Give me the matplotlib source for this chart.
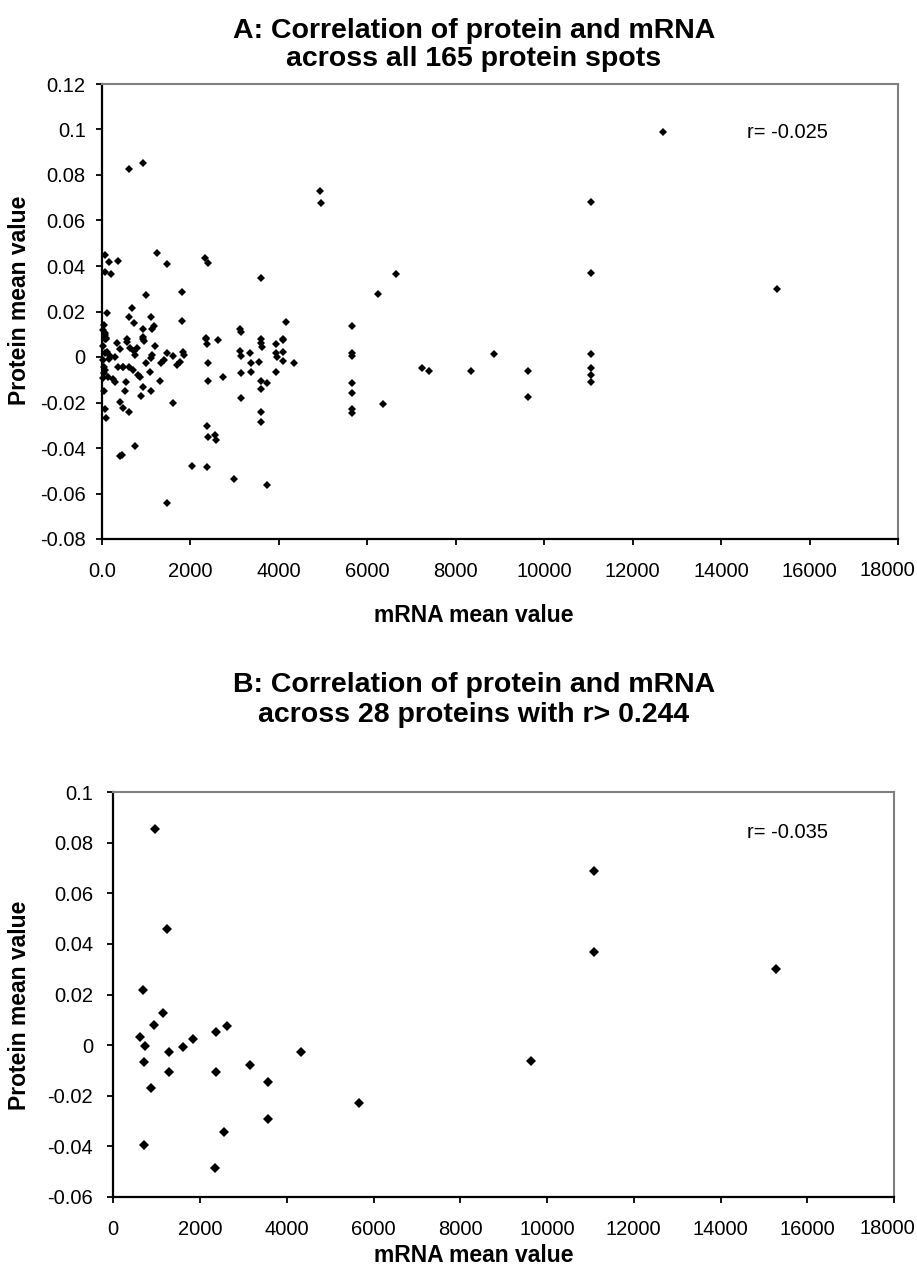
import matplotlib
matplotlib.use("Agg")
import matplotlib.pyplot as plt
from matplotlib.ticker import FixedLocator, FixedFormatter

# ---- panel A: 165 protein spots ----
a_x = [623, 940, 4934, 4949, 75, 172, 375, 1243, 1483, 2334, 2410, 3593, 75, 203,
       994, 1815, 678, 113, 624, 1114, 730, 59, 940, 1182, 1144, 1815, 4165, 3125,
       3141, 75, 75, 97, 565, 940, 2357, 3593, 4090,
       75, 97, 339, 565, 940, 956, 2357, 2387, 2636, 3593, 3616, 3939, 4090, 640, 730,
       752, 75, 187, 36, 300, 488, 1130, 1107, 1469, 1604, 1333, 1709, 1770, 1845,
       1860, 2410, 3125, 3141, 3351, 3367, 3555, 3939, 3969, 4104, 4104, 4346, 52, 75,
       36, 149, 300, 375, 488, 624, 714, 827, 865, 1091, 1318, 2410, 2748, 3141, 3367,
       3593, 3729, 3593, 3939, 527, 940, 888, 1107, 3141, 414, 488, 624, 1604, 75, 97,
       3593, 3593, 2387, 2410, 2560, 2583, 752, 414, 452, 2047, 2387, 2990, 3729, 1483,
       11052, 6651, 6251, 11052, 5650, 5650, 5650, 8872, 11052, 7232, 7397, 8339, 9627,
       11052, 11052, 11052, 5650, 5650, 9627, 6364, 5650, 5650, 12692, 15254,
       20, 60, 130, 250, 420, 560, 800, 1000, 1200, 1400, 20, 45, 160]
a_y = [0.0826, 0.0851, 0.0730, 0.0676, 0.0448, 0.0419, 0.0423, 0.0456, 0.0409, 0.0434,
       0.0415, 0.0349, 0.0375, 0.0365, 0.0273, 0.0284, 0.0214, 0.0192, 0.0177, 0.0177,
       0.0148, 0.0141, 0.0123, 0.0138, 0.0123, 0.0158, 0.0155, 0.0122, 0.0111, 0.0104,
       0.0079, 0.0079, 0.0079, 0.0079, 0.0079, 0.0079, 0.0079,
       0.0097, 0.0082, 0.0060, 0.0067, 0.0089, 0.0072, 0.0082, 0.0057, 0.0075, 0.0063,
       0.0045, 0.0057, 0.0075, 0.0038, 0.0028, 0.0009, 0.0016, 0.0004, -0.0013, 0.0001,
       -0.0043, 0.0009, -0.0006, 0.0016, 0.0004, -0.0025, -0.0035, -0.0020, 0.0023,
       0.0009, -0.0028, 0.0028, 0.0004, 0.0019, -0.0028, -0.0020, 0.0016, -0.0001,
       0.0023, -0.0016, -0.0028, -0.0043, -0.0057, -0.0094, -0.0087, -0.0109, -0.0043,
       -0.0043, -0.0043, -0.0057, -0.0079, -0.0087, -0.0065, -0.0105, -0.0105, -0.0089,
       -0.0072, -0.0067, -0.0105, -0.0116, -0.0142, -0.0067, -0.0148, -0.0130, -0.0170,
       -0.0149, -0.0182, -0.0197, -0.0223, -0.0240, -0.0203, -0.0230, -0.0267, -0.0240,
       -0.0287, -0.0303, -0.0353, -0.0343, -0.0365, -0.0391, -0.0435, -0.0431, -0.0478,
       -0.0485, -0.0535, -0.0563, -0.0643,
       0.0683, 0.0365, 0.0277, 0.0368, 0.0136, 0.0016, 0.0004, 0.0013, 0.0013, -0.0050,
       -0.0060, -0.0060, -0.0062, -0.0050, -0.0079, -0.0109, -0.0116, -0.0160, -0.0177,
       -0.0208, -0.0230, -0.0245, 0.0990, 0.0299,
       0.0050, -0.0070, 0.0020, -0.0095, 0.0035, -0.0110, 0.0040, -0.0025, 0.0050,
       -0.0012, 0.0120, -0.0150, -0.0010]

# ---- panel B: 28 proteins with r > 0.244 ----
b_x = [962, 1232, 678, 1154, 947, 623, 732, 1293, 1601, 1832, 2370, 2617, 716, 1293,
       2370, 3155, 3577, 4325, 870, 5654, 3577, 2555, 716, 2347, 11094, 11094, 15271, 9633]
b_y = [0.0853, 0.0457, 0.0217, 0.0125, 0.0079, 0.0033, -0.0003, -0.0027, -0.0007,
       0.0026, 0.0053, 0.0075, -0.0068, -0.0108, -0.0108, -0.0079, -0.0147, -0.0027,
       -0.0171, -0.0230, -0.0290, -0.0345, -0.0393, -0.0485, 0.0688, 0.0369, 0.0300,
       -0.0062]

x_ticks = [0, 2000, 4000, 6000, 8000, 10000, 12000, 14000, 16000, 18000]
a_xlabels = ["0.0"] + [str(v) for v in x_ticks[1:]]
b_xlabels = [str(v) for v in x_ticks]
a_yticks = [0.12, 0.1, 0.08, 0.06, 0.04, 0.02, 0, -0.02, -0.04, -0.06, -0.08]
a_ylabels = ["0.12", "0.1", "0.08", "0.06", "0.04", "0.02", "0", "-0.02", "-0.04", "-0.06", "-0.08"]
b_yticks = [0.1, 0.08, 0.06, 0.04, 0.02, 0, -0.02, -0.04, -0.06]
b_ylabels = ["0.1", "0.08", "0.06", "0.04", "0.02", "0", "-0.02", "-0.04", "-0.06"]

plt.rcParams["font.family"] = ["Liberation Sans", "DejaVu Sans"]

W, H = 917, 1273
fig = plt.figure(figsize=(W / 100, H / 100), dpi=100)


def box(l, t, r, b):
    return [l / W, 1 - b / H, (r - l) / W, (b - t) / H]


def style(ax, yticks, ylabels, xlabels, ylim, ypad, label_y):
    ax.set_xlim(0, 18000)
    ax.set_ylim(*ylim)
    ax.xaxis.set_major_locator(FixedLocator(x_ticks))
    # last x label is drawn separately so it stays inside the image
    ax.xaxis.set_major_formatter(FixedFormatter(xlabels[:-1] + [""]))
    ax.yaxis.set_major_locator(FixedLocator(yticks))
    ax.yaxis.set_major_formatter(FixedFormatter(ylabels))
    ax.tick_params(direction="out", length=4.5, width=1.3, labelsize=14.5,
                   colors="black")
    ax.tick_params(axis="x", pad=12)
    ax.tick_params(axis="y", pad=ypad)
    for s in ("left", "bottom"):
        ax.spines[s].set_color("black")
        ax.spines[s].set_linewidth(1.6)
    for s in ("top", "right"):
        ax.spines[s].set_color("#808080")
        ax.spines[s].set_linewidth(1.5)
    fig.text(915 / W, 1 - label_y / H, xlabels[-1], ha="right", va="center",
             fontsize=14.5)


# ---- A ----
axA = fig.add_axes(box(101.7, 84, 898, 539))
axA.plot(a_x, a_y, "D", color="black", ms=3.6, mew=0, clip_on=False)
style(axA, a_yticks, a_ylabels, a_xlabels, (-0.08, 0.12), 7, 571)
axA.text(746.7 / W, 1 - 132 / H, "r= -0.025", transform=fig.transFigure,
         fontsize=14.5, ha="left", va="center")
fig.text(474 / W, 1 - 45 / H, "A: Correlation of protein and mRNA\nacross all 165 protein spots",
         ha="center", va="center", fontsize=20.5, fontweight="bold", linespacing=1.15)
fig.text(474 / W, 1 - 615 / H, "mRNA mean value", ha="center", va="center",
         fontsize=16.5, fontweight="bold")
fig.text(20 / W, 1 - 300 / H, "Protein mean value", ha="center", va="center",
         rotation=90, fontsize=16.5, fontweight="bold")

# ---- B ----
axB = fig.add_axes(box(113.3, 792, 894, 1197))
axB.plot(b_x, b_y, "D", color="black", ms=4.6, mew=0, clip_on=False)
style(axB, b_yticks, b_ylabels, b_xlabels, (-0.06, 0.1), 10, 1229)
axB.text(746.7 / W, 1 - 833 / H, "r= -0.035", transform=fig.transFigure,
         fontsize=14.5, ha="left", va="center")
fig.text(474 / W, 1 - 700 / H, "B: Correlation of protein and mRNA\nacross 28 proteins with r> 0.244",
         ha="center", va="center", fontsize=20.5, fontweight="bold", linespacing=1.15)
fig.text(474 / W, 1 - 1255 / H, "mRNA mean value", ha="center", va="center",
         fontsize=16.5, fontweight="bold")
fig.text(20 / W, 1 - 1005 / H, "Protein mean value", ha="center", va="center",
         rotation=90, fontsize=16.5, fontweight="bold")

fig.savefig("out.png", dpi=100)
